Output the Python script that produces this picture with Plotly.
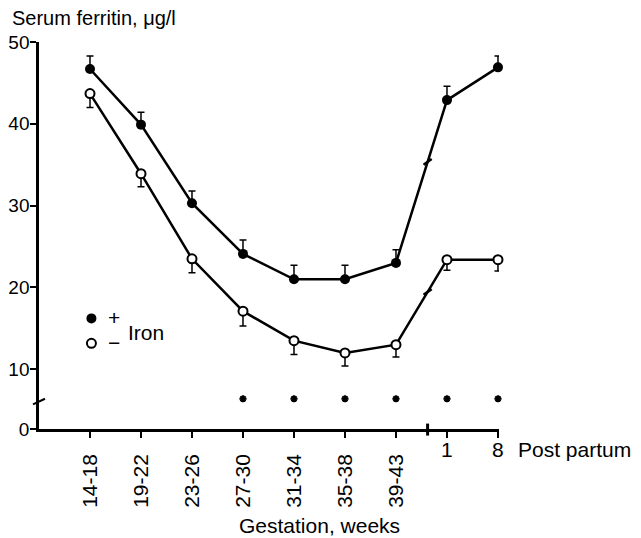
import plotly.graph_objects as go

# gestation periods (weeks) and post partum weeks
labels = ["14-18", "19-22", "23-26", "27-30", "31-34", "35-38", "39-43", "1", "8"]
n_gestation = 7

# serum ferritin, ug/l (mean and SE)
iron_plus = [46.7, 39.9, 30.3, 24.1, 21.0, 21.0, 23.0, 42.9, 46.9]
iron_plus_se = [1.6, 1.5, 1.5, 1.7, 1.7, 1.7, 1.6, 1.7, 1.4]
iron_minus = [43.7, 33.9, 23.5, 17.1, 13.5, 12.0, 13.0, 23.4, 23.4]
iron_minus_se = [1.7, 1.6, 1.7, 1.8, 1.7, 1.6, 1.5, 1.3, 1.4]
significant = [False, False, False, True, True, True, True, True, True]

y_ticks = [10, 20, 30, 40, 50]

FONT = "Liberation Sans, Arial, sans-serif"
y_bottom = 2.7      # the axis is broken, bottom of plot is labelled 0
sig_y = 6.4
x_break = 6.62

x = list(range(len(labels)))

fig = go.Figure()

fig.add_trace(go.Scatter(
    x=x, y=iron_minus, mode="lines+markers", showlegend=False, cliponaxis=False,
    line=dict(color="black", width=2.5),
    marker=dict(symbol="circle", size=9, color="white", line=dict(color="black", width=2)),
    error_y=dict(type="data", symmetric=False, array=[0] * len(x), arrayminus=iron_minus_se,
                 color="black", thickness=1.5, width=3.5),
))
fig.add_trace(go.Scatter(
    x=x, y=iron_plus, mode="lines+markers", showlegend=False, cliponaxis=False,
    line=dict(color="black", width=2.5),
    marker=dict(symbol="circle", size=10, color="black"),
    error_y=dict(type="data", symmetric=False, array=iron_plus_se, arrayminus=[0] * len(x),
                 color="black", thickness=1.5, width=3.5),
))

# significance marks
sig_x = [i for i, s in enumerate(significant) if s]
fig.add_trace(go.Scatter(
    x=sig_x, y=[sig_y] * len(sig_x), mode="markers", showlegend=False, cliponaxis=False,
    marker=dict(symbol="asterisk-open", size=6, color="black", line=dict(color="black", width=2)),
))

# legend markers (the +/- text is written next to them)
fig.add_trace(go.Scatter(x=[None], y=[None], mode="markers", name=" ",
                         marker=dict(symbol="circle", size=10, color="black")))
fig.add_trace(go.Scatter(x=[None], y=[None], mode="markers", name=" ",
                         marker=dict(symbol="circle", size=9, color="white",
                                     line=dict(color="black", width=2))))

# break marks on the lines between gestation and post partum
shapes = []
frac = x_break - (n_gestation - 1)
for series in (iron_plus, iron_minus):
    yb = series[n_gestation - 1] + (series[n_gestation] - series[n_gestation - 1]) * frac
    shapes.append(dict(type="line", xref="x", yref="y",
                       x0=x_break - 0.08, x1=x_break + 0.08, y0=yb - 0.35, y1=yb + 0.35,
                       line=dict(color="black", width=2.5)))
# break on the x axis
shapes.append(dict(type="line", xref="x", yref="paper", x0=x_break, x1=x_break,
                   y0=-0.017, y1=0.014, line=dict(color="black", width=3)))
# break on the y axis
shapes.append(dict(type="line", xref="paper", yref="y", x0=-0.013, x1=0.013,
                   y0=sig_y - 0.7, y1=sig_y, line=dict(color="black", width=2)))

annotations = [
    dict(text="Serum ferritin, \u03bcg/l", xref="paper", yref="paper", x=-0.063, y=1.062,
         xanchor="left", yanchor="middle", showarrow=False, font=dict(size=20)),
    dict(text="+", xref="paper", yref="paper", x=0.1457, y=0.288,
         xanchor="left", yanchor="middle", showarrow=False, font=dict(size=21)),
    dict(text="\u2212", xref="paper", yref="paper", x=0.1457, y=0.2236,
         xanchor="left", yanchor="middle", showarrow=False, font=dict(size=21)),
    dict(text="Iron", xref="paper", yref="paper", x=0.19, y=0.249,
         xanchor="left", yanchor="middle", showarrow=False, font=dict(size=21)),
    dict(text="Gestation, weeks", xref="paper", yref="paper", x=0.609, y=-0.249,
         xanchor="center", yanchor="middle", showarrow=False, font=dict(size=21)),
    dict(text="Post partum", xref="paper", yref="paper", x=1.038, y=-0.054,
         xanchor="left", yanchor="middle", showarrow=False, font=dict(size=21)),
]
for i in range(n_gestation, len(labels)):
    annotations.append(dict(text=labels[i], xref="x", yref="paper", x=i, y=-0.054,
                            xanchor="center", yanchor="middle", showarrow=False,
                            font=dict(size=21)))

# the page body has an 8px margin, so the figure is 8px smaller than the window
fig.update_layout(
    width=633, height=530,
    margin=dict(l=31, r=142, t=34, b=109),
    paper_bgcolor="white", plot_bgcolor="white",
    font=dict(family=FONT, color="black", size=21),
    shapes=shapes, annotations=annotations,
    legend=dict(x=0.0705, y=0.331, xanchor="left", yanchor="top",
                bgcolor="rgba(0,0,0,0)", font=dict(size=16.9), itemwidth=30),
)
fig.update_xaxes(
    range=[-1.0, 8.02], showgrid=False, zeroline=False, automargin=False,
    showline=True, linecolor="black", linewidth=2.5,
    tickmode="array", tickvals=x, ticktext=labels[:n_gestation] + [""] * (len(labels) - n_gestation),
    tickangle=-90, ticks="outside", ticklen=6, tickwidth=2, tickcolor="black",
    ticklabelstandoff=8, tickfont=dict(size=21),
)
fig.update_yaxes(
    range=[y_bottom, 50], showgrid=False, zeroline=False, automargin=False,
    showline=True, linecolor="black", linewidth=2.5,
    tickmode="array", tickvals=[y_bottom] + y_ticks, ticktext=["0"] + [str(v) for v in y_ticks],
    ticks="outside", ticklen=6, tickwidth=2, tickcolor="black",
    ticklabelstandoff=-3, tickfont=dict(size=19),
)

fig.write_html("out.html")
